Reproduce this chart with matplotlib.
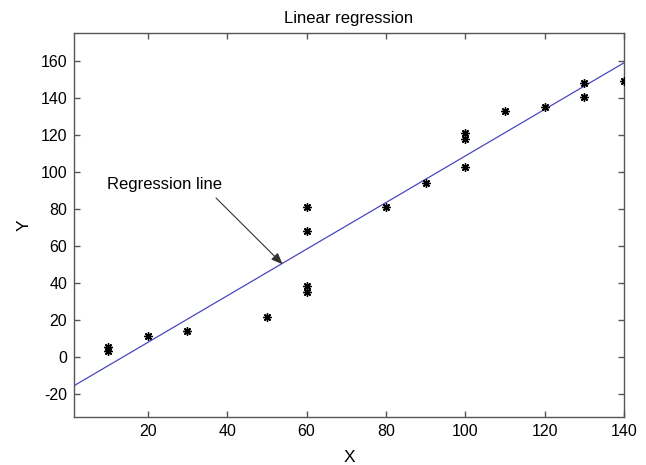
import matplotlib
matplotlib.use("Agg")
import matplotlib.pyplot as plt

plt.rcParams['font.family'] = ['Liberation Sans', 'DejaVu Sans']
plt.rcParams['axes.unicode_minus'] = False

# Data
x_data = [10, 10, 20, 30, 50, 60, 60, 60, 60, 80, 90, 100, 100, 100, 110, 120, 130, 130, 140]
y_data = [5.4, 3.1, 11.4, 14.1, 21.3, 81.1, 67.8, 38.4, 35.1, 81.1, 93.9, 121.1, 117.8, 102.7, 132.8, 134.8, 148.1, 140.5, 148.9]

# Regression line endpoints
line_x = [1.4, 140]
line_y = [-15.7, 158.9]

x_ticks = [20, 40, 60, 80, 100, 120, 140]
y_ticks = [-20, 0, 20, 40, 60, 80, 100, 120, 140, 160]

title = "Linear regression"
xlabel = "X"
ylabel = "Y"
annot_text = "Regression line"

fig = plt.figure(figsize=(6.46, 4.65), dpi=100)
ax = fig.add_axes([74/646, 48/465, 550/646, 384/465])

ax.plot(line_x, line_y, color='#4848c0', lw=0.9, zorder=2)
ax.plot(x_data, y_data, linestyle='none', marker=(8, 2, 0), markersize=6,
        markeredgewidth=1.0, color='black', zorder=3)

ax.set_xlim(1.4, 140)
ax.set_ylim(-32.6, 175)
ax.set_xticks(x_ticks)
ax.set_yticks(y_ticks)

frame_color = '#555555'
for s in ax.spines.values():
    s.set_color(frame_color)
    s.set_linewidth(1.0)
ax.tick_params(direction='in', length=4, width=1.0, color=frame_color,
               top=True, right=True, labelsize=11.5, labelcolor='black', pad=5)

ax.set_title(title, fontsize=12, pad=7)
ax.set_xlabel(xlabel, fontsize=12.5, labelpad=8)
ax.set_ylabel(ylabel, fontsize=12.5, labelpad=6)

ax.text(9.7, 93.2, annot_text, fontsize=12, ha='left', va='center')
ax.annotate("", xy=(54, 49.9), xytext=(37.2, 85.8),
            arrowprops=dict(arrowstyle='-|>,head_length=0.5,head_width=0.2',
                            color='#333333', lw=0.8,
                            mutation_scale=14, shrinkA=0, shrinkB=0))

fig.savefig('out.png', dpi=100)
